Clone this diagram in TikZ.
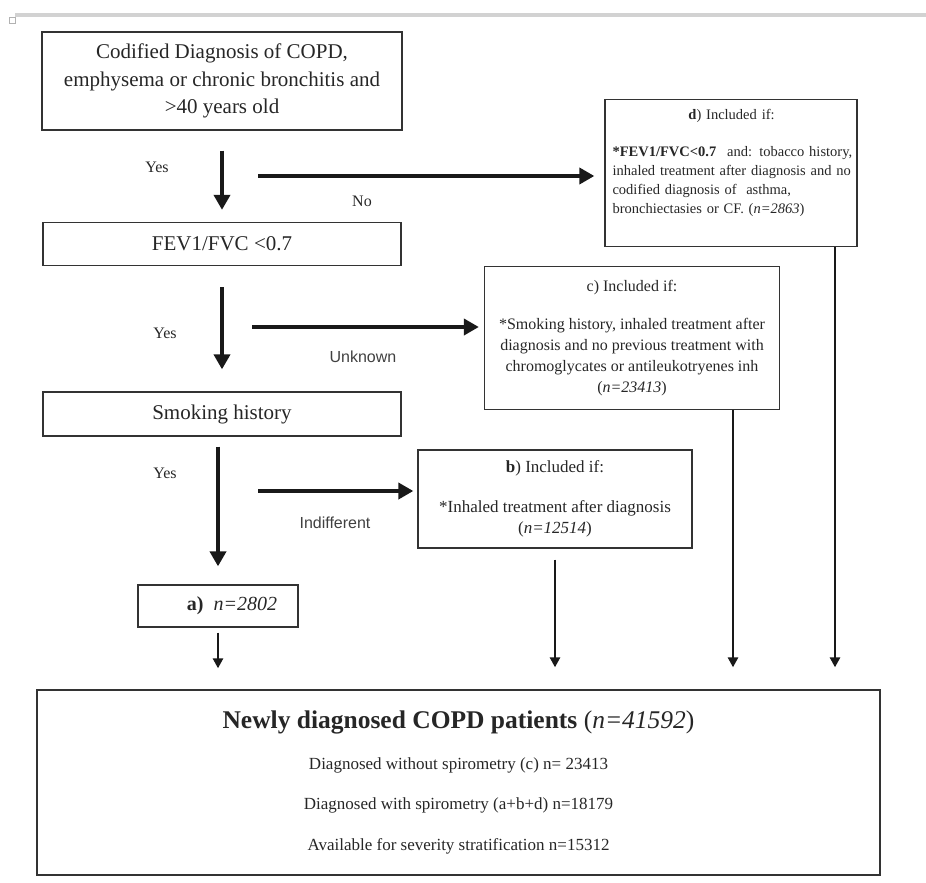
\documentclass[tikz,border=0pt]{standalone}
\usepackage{fontspec}
\setmainfont{Liberation Serif}
\newfontfamily\labelsans{Liberation Sans}
\usetikzlibrary{arrows.meta}

\begin{document}
\begin{tikzpicture}[x=1pt, y=-1pt, text=black!85,
	box/.style = {rectangle, draw=black!80, line width=1.3pt, inner sep=0pt, align=center},
	bigarrow/.style = {draw=black!90, line width=4.5pt, -{Triangle[length=15pt, width=16pt]}},
	thinarrow/.style = {draw=black!90, line width=2.6pt, -{Triangle[length=10pt, width=10pt]}},
	answer/.style = {font=\fontsize{16}{19}\selectfont},
	branch/.style = {font=\labelsans\fontsize{16}{19}\selectfont, text=black!75},
	]
	\useasboundingbox (0,0) rectangle (926,883);
	\fill[gray!35] (15,13) rectangle (926,17);
	\draw[gray!60, line width=0.8pt] (9.5,17.5) rectangle (15.5,23.5);

	\node (diag) at (222, 81)	[box, minimum width=360pt, minimum height=98pt, font=\fontsize{21}{27.5}\selectfont]	{Codified Diagnosis of COPD,\\ emphysema or chronic bronchitis and\\ >40 years old};
	\node (fev) at (222, 244)	[box, minimum width=358pt, minimum height=43pt, font=\fontsize{21}{25}\selectfont]	{FEV1/FVC <0.7};
	\node (smoke) at (222, 414)	[box, minimum width=358pt, minimum height=44pt, font=\fontsize{21}{25}\selectfont]	{Smoking history};
	\node (aBox) at (218, 606)	[box, minimum width=160pt, minimum height=42pt, font=\fontsize{20}{24}\selectfont]	{\hspace*{28pt}\textbf{a)}\hspace{10pt}\textit{n=2802}};

	\node (incD) at (731, 173)	[box, minimum width=252pt, minimum height=147pt]	{};
	\node (incDtxt) at ([xshift=8pt, yshift=-10pt]incD.north west)	[anchor=north west, text width=246pt, align=left, inner sep=0pt, font=\fontsize{14.5}{19}\selectfont]	{\makebox[238pt][c]{\textbf{d}) Included if:}\\[18pt] \textbf{*FEV1/FVC<0.7}\hspace{6pt} and: tobacco history,\\ inhaled treatment after diagnosis and no\\ codified diagnosis of\ \ asthma,\\ bronchiectasies or CF. (\textit{n=2863})};
	\node (incC) at (632, 338)	[box, minimum width=295pt, minimum height=143pt, font=\fontsize{16}{21}\selectfont]	{c) Included if:\\[17pt] *Smoking history, inhaled treatment after\\ diagnosis and no previous treatment with\\ chromoglycates or antileukotryenes inh\\ (\textit{n=23413})};
	\node (incB) at (555, 499)	[box, minimum width=274pt, minimum height=98pt, font=\fontsize{17}{21}\selectfont]	{\textbf{b}) Included if:\\[19pt] *Inhaled treatment after diagnosis\\ (\textit{n=12514})};

	\node (total) at (458.5, 782.5)	[box, minimum width=843pt, minimum height=185pt, font=\fontsize{17}{20}\selectfont]	{{\fontsize{25.5}{29}\selectfont\textbf{Newly diagnosed COPD patients} (\textit{n=41592})}\\[21pt] Diagnosed without spirometry (c) n= 23413\\[20pt] Diagnosed with spirometry (a+b+d) n=18179\\[21pt] Available for severity stratification n=15312};

	\node (yesA) at (157, 167)	[answer]	{Yes};
	\node (noD) at (362, 201)	[answer]	{No};
	\node (yesB) at (165, 333)	[answer]	{Yes};
	\node (unknownC) at (363, 357)	[branch]	{Unknown};
	\node (yesC) at (165, 473)	[answer]	{Yes};
	\node (indiffB) at (335, 523)	[branch]	{Indifferent};

	\coordinate (noStart) at (258, 176);
	\coordinate (unkStart) at (252, 327);
	\coordinate (indStart) at (258, 491);

	\draw[bigarrow, shorten <=20pt, shorten >=12pt] (diag.south) -- (fev.north);
	\draw[bigarrow, shorten <=21pt, shorten >=22pt] (fev.south) -- (smoke.north);
	\draw[bigarrow, shorten <=10pt, shorten >=18pt] (smoke.south -| aBox) -- (aBox.north);
	\draw[bigarrow, shorten >=10pt] (noStart) -- (noStart -| incD.west);
	\draw[bigarrow, shorten >=5pt] (unkStart) -- (unkStart -| incC.west);
	\draw[bigarrow, shorten >=4pt] (indStart) -- (indStart -| incB.west);

	\draw[thinarrow, shorten <=5pt, shorten >=21pt] (aBox.south) -- (aBox.south |- total.north);
	\draw[thinarrow, shorten <=11pt, shorten >=22pt] (incB.south) -- (incB.south |- total.north);
	\draw[thinarrow, shorten >=22pt] ([xshift=101pt]incC.south) -- ([xshift=101pt]incC.south |- total.north);
	\draw[thinarrow, shorten >=22pt] ([xshift=104pt]incD.south) -- ([xshift=104pt]incD.south |- total.north);
\end{tikzpicture}
\end{document}
